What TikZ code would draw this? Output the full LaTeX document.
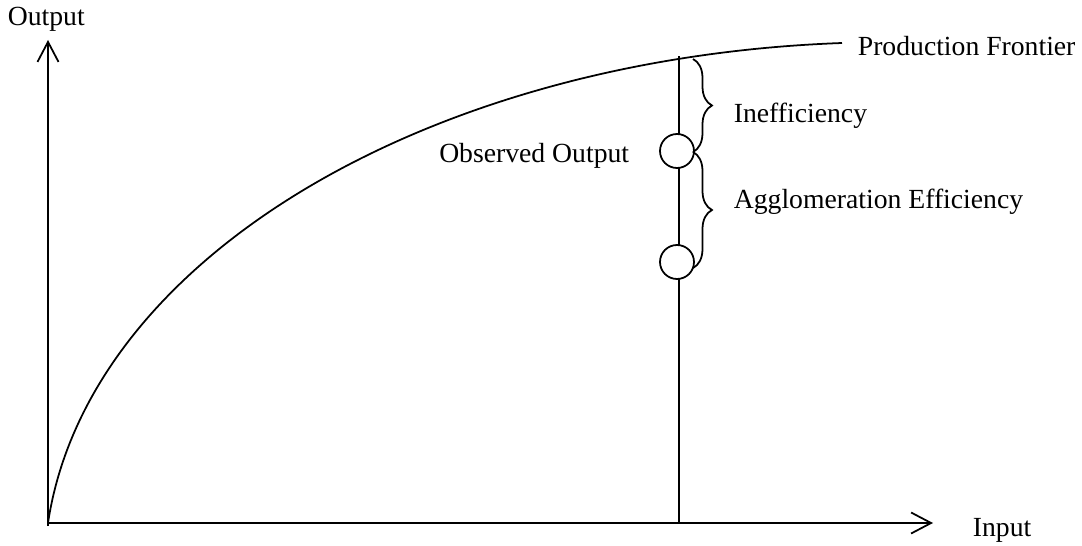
\documentclass[tikz,border=0pt]{standalone}
\usepackage{fontspec}
\setmainfont{Liberation Serif}
\usetikzlibrary{arrows.meta, decorations.pathreplacing}

\begin{document}
\begin{tikzpicture}[line width=1pt, font=\fontsize{15.75}{18}\selectfont,
		axis/.style={-{Straight Barb[length=4mm, width=4.2mm]}},
		label/.style={inner sep=0pt},
		dot/.style={circle, draw, fill=white, inner sep=0pt, minimum size=0.68cm},
		bracket/.style={decorate, decoration={brace, amplitude=0.38cm}}]
			
			\useasboundingbox (0,0) rectangle (21.64,10.9);
			
			% Axes
			\coordinate (O) at (0.96,0.44);
			\coordinate (ybot) at (0.96,0.38);
			\coordinate (ytop) at (0.96,10.1);
			\coordinate (xleft) at (0.94,0.44);
			\coordinate (xright) at (18.66,0.44);
			\draw[axis] (ybot) -- (ytop);
			\draw[axis] (xleft) -- (xright);
			\node[label, anchor=base west] (outlabel) at (0.14,10.38) {Output};
			\node[label, anchor=base west] (inlabel) at (19.44,0.18) {Input};
			
			% Production Frontier
			\coordinate (fend) at (16.84,10.04);
			\draw (O) .. controls (1.76,5.74) and (8.56,9.74) .. (fend);
			\node[label, anchor=base west] (frontier) at (17.14,9.78) {Production Frontier};
			
			% Observed firm
			\coordinate (ftop) at (13.58,9.78);
			\coordinate (fbot) at (13.58,0.44);
			\draw (ftop) -- (fbot);
			\node[dot] (obsA) at (13.54,7.88) {};
			\node[dot] (obsB) at (13.54,5.66) {};
			\node[label, anchor=base east] (obslabel) at (12.6,7.66) {Observed Output};
			
			% Braces
			\coordinate (b1) at (13.86,9.72);
			\coordinate (b2) at (13.86,7.86);
			\coordinate (b3) at (13.86,5.54);
			\draw[bracket] (b1) -- (b2);
			\draw[bracket] (b2) -- (b3);
			\node[label, anchor=base west] (ineff) at (14.66,8.46) {Inefficiency};
			\node[label, anchor=base west] (agglo) at (14.66,6.74) {Agglomeration Efficiency};
			
		\end{tikzpicture}
\end{document}
